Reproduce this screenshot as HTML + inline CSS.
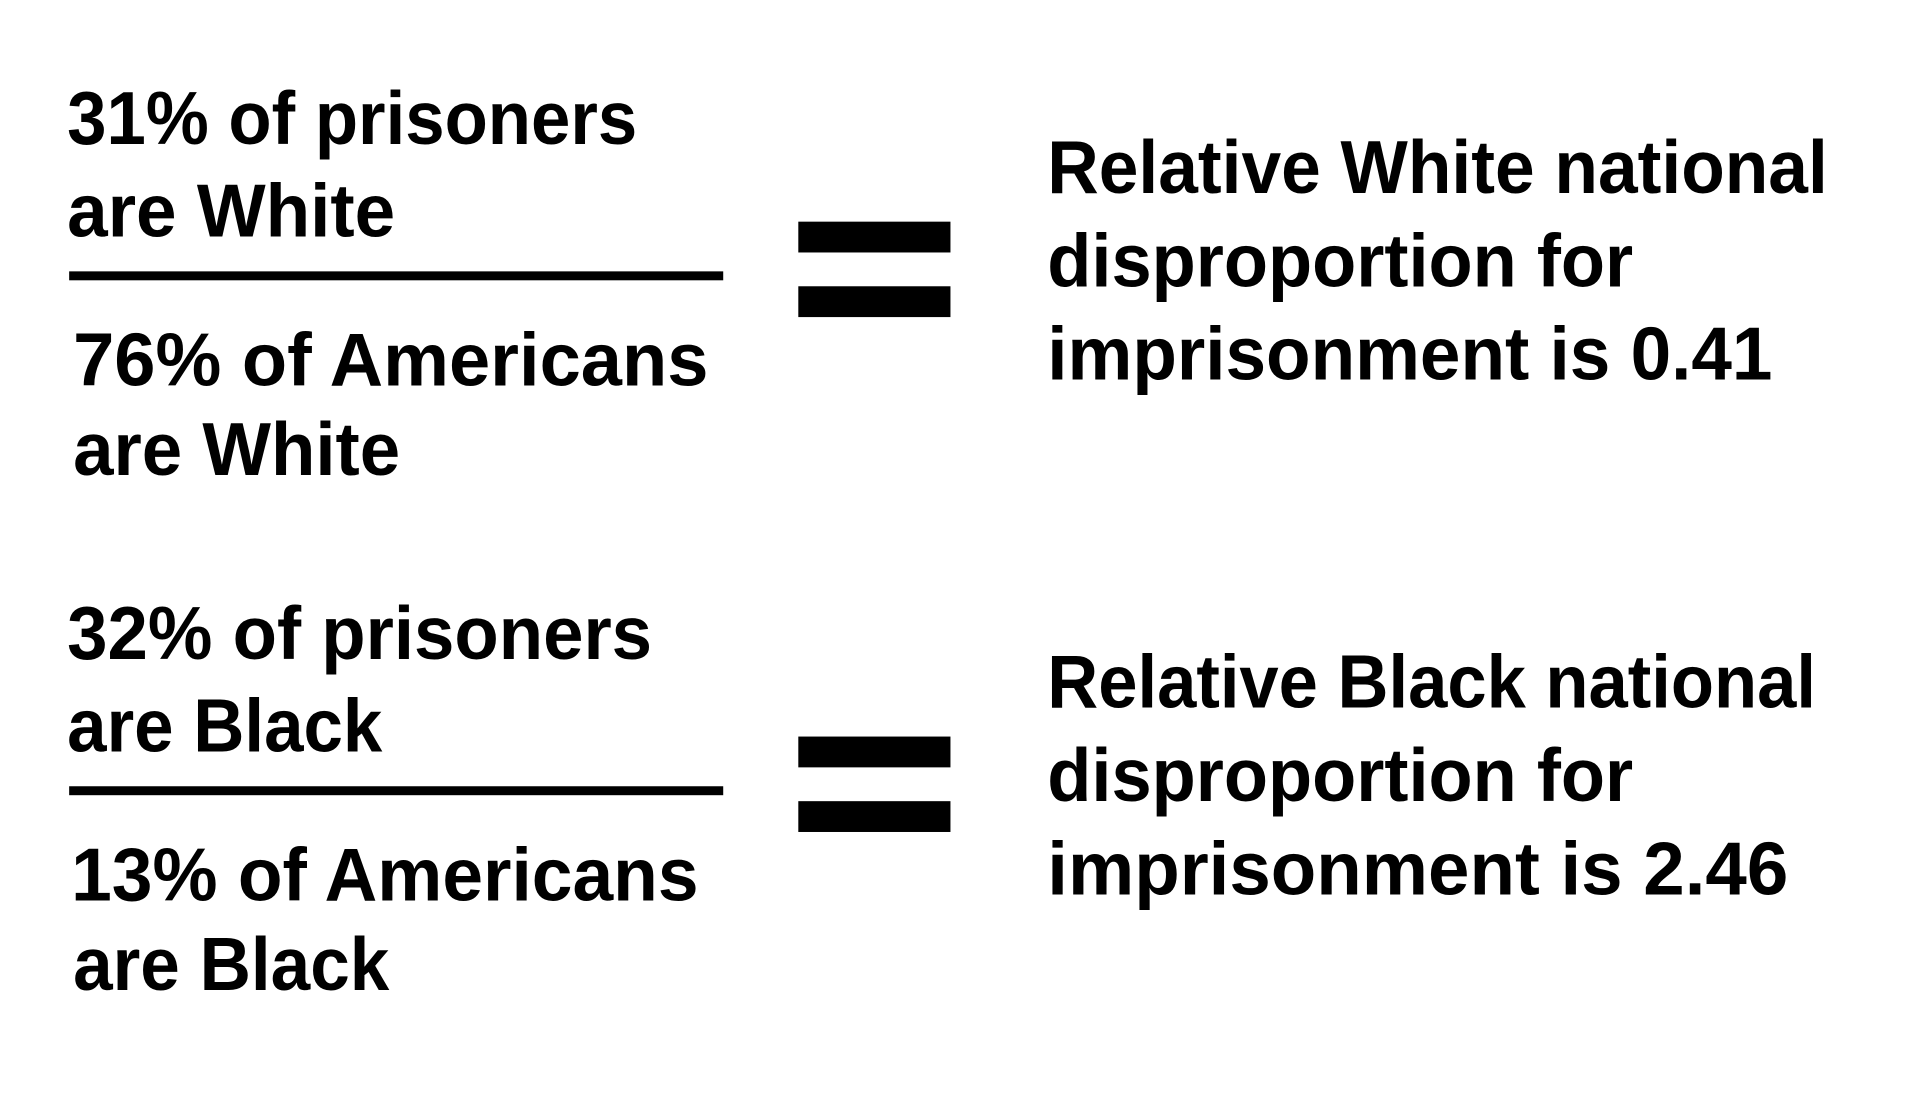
<!DOCTYPE html>
<html><head><meta charset="utf-8"><style>
html,body{margin:0;padding:0;background:#fff;width:1920px;height:1111px;overflow:hidden}
svg text{font-family:"Liberation Sans",sans-serif;font-weight:bold;font-size:76px;fill:#000}
</style></head><body>
<svg width="1920" height="1111" viewBox="0 0 1920 1111">
<rect width="1920" height="1111" fill="#fff"/>
<g transform="scale(0.988,0.994)">
<g>
<text x="68" y="145" textLength="577" lengthAdjust="spacingAndGlyphs">31% of prisoners</text>
<text x="68" y="238" textLength="332" lengthAdjust="spacingAndGlyphs">are White</text>
<rect x="70" y="273" width="662" height="9" fill="#000"/>
<text x="74" y="388" textLength="643" lengthAdjust="spacingAndGlyphs">76% of Americans</text>
<text x="74" y="478" textLength="331" lengthAdjust="spacingAndGlyphs">are White</text>
<rect x="808" y="223" width="154" height="31" fill="#000"/>
<rect x="808" y="288" width="154" height="31" fill="#000"/>
<text x="1060" y="194" textLength="790" lengthAdjust="spacingAndGlyphs">Relative White national</text>
<text x="1060" y="288" textLength="593" lengthAdjust="spacingAndGlyphs">disproportion for</text>
<text x="1060" y="382" textLength="734" lengthAdjust="spacingAndGlyphs">imprisonment is 0.41</text>
</g>
<g>
<text x="68" y="663" textLength="592" lengthAdjust="spacingAndGlyphs">32% of prisoners</text>
<text x="68" y="756" textLength="319" lengthAdjust="spacingAndGlyphs">are Black</text>
<rect x="70" y="791" width="662" height="9" fill="#000"/>
<text x="72" y="906" textLength="635" lengthAdjust="spacingAndGlyphs">13% of Americans</text>
<text x="74" y="996" textLength="320" lengthAdjust="spacingAndGlyphs">are Black</text>
<rect x="808" y="741" width="154" height="31" fill="#000"/>
<rect x="808" y="806" width="154" height="31" fill="#000"/>
<text x="1060" y="712" textLength="778" lengthAdjust="spacingAndGlyphs">Relative Black national</text>
<text x="1060" y="806" textLength="593" lengthAdjust="spacingAndGlyphs">disproportion for</text>
<text x="1060" y="900" textLength="750" lengthAdjust="spacingAndGlyphs">imprisonment is 2.46</text>
</g>
</g>
</svg>
</body></html>
